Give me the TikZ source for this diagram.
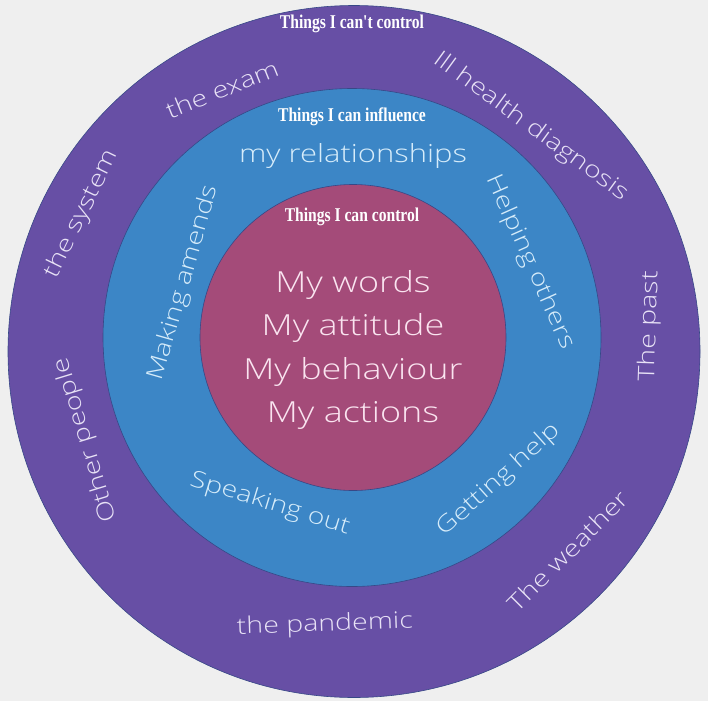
\documentclass[tikz,border=0pt]{standalone}
\usepackage{fontspec}
\IfFontExistsTF{Open Sans Light}
	{\newfontfamily\handfont{Open Sans Light}[FakeStretch=1.24]}
	{\newfontfamily\handfont{Open Sans}[FakeStretch=1.24]}
\newfontfamily\titlefont{Liberation Serif}[FakeStretch=0.8]
\definecolor{bgcol}{RGB}{239,239,239}
\definecolor{outercol}{RGB}{103,79,165}
\definecolor{midcol}{RGB}{60,134,198}
\definecolor{innercol}{RGB}{164,75,121}
\definecolor{edgecol}{RGB}{55,72,135}
\definecolor{outertxt}{RGB}{232,226,246}
\definecolor{midtxt}{RGB}{214,236,250}
\definecolor{innertxt}{RGB}{250,228,240}
\begin{document}
\begin{tikzpicture}[x=1pt,y=-1pt,
	ring/.style={draw=edgecol, line width=0.6pt},
	title/.style={text=white, inner sep=0pt, font=\titlefont\bfseries\fontsize{19.5}{21}\selectfont},
	hand/.style={inner sep=0pt, font=\handfont\fontsize{23}{25}\selectfont}]
	\fill[bgcol] (0,0) rectangle (708,701);
	% the three rings
	\filldraw[ring, fill=outercol] (354,351.5) circle[radius=346pt];
	\filldraw[ring, fill=midcol] (352,337.5) circle[radius=249pt];
	\filldraw[ring, fill=innercol] (353,337.5) circle[radius=153pt];
	
	% outer ring
	\node[title] (cant) at (352,24) {Things I can't control};
	\node[hand, text=outertxt, rotate=22] (exam) at (222,89) {the exam};
	\node[hand, text=outertxt, rotate=-36] (health) at (531,127) {Ill health diagnosis};
	\node[hand, text=outertxt, rotate=64] (system) at (82,214) {the system};
	\node[hand, text=outertxt, rotate=88] (past) at (650,326) {The past};
	\node[hand, text=outertxt, rotate=107] (people) at (86,440) {Other people};
	\node[hand, text=outertxt, rotate=45] (weather) at (568,551) {The weather};
	\node[hand, text=outertxt, rotate=2] (pandemic) at (325,625) {the pandemic};
	
	% middle ring
	\node[title] (influence) at (352,117) {Things I can influence};
	\node[hand, text=midtxt, font=\handfont\fontsize{25}{27}\selectfont] (relations) at (353,156) {my relationships};
	\node[hand, text=midtxt, rotate=74] (amends) at (184,283) {Making amends};
	\node[hand, text=midtxt, rotate=-66] (helping) at (530,262) {Helping others};
	\node[hand, text=midtxt, rotate=-17] (speaking) at (270,504) {Speaking out};
	\node[hand, text=midtxt, rotate=42] (help) at (499,480) {Getting help};
	
	% inner circle
	\node[title] (control) at (352,217) {Things I can control};
	\node[hand, text=innertxt, align=center, font=\handfont\fontsize{29}{43.5}\selectfont] (mine) at (353,350) {My words\\My attitude\\My behaviour\\My actions};
\end{tikzpicture}
\end{document}
